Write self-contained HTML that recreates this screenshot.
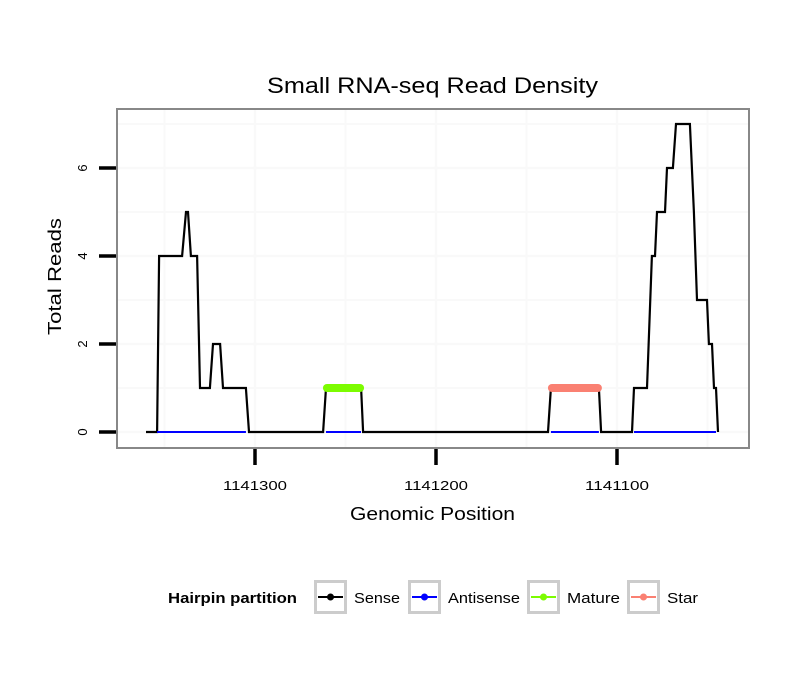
<!DOCTYPE html>
<html><head><meta charset="utf-8"><style>
body{margin:0;background:#fff}
svg text{font-family:"Liberation Sans",sans-serif}
</style></head><body>
<svg id="chart" width="810" height="690" viewBox="0 0 810 690">
<rect width="810" height="690" fill="#fff"/>
<text x="267" y="93" font-size="22" textLength="331" lengthAdjust="spacingAndGlyphs">Small RNA-seq Read Density</text>
<g id="grid"></g>
<g id="series"></g>
<rect x="117" y="109" width="632" height="339" fill="none" stroke="#888" stroke-width="2"/>
<g id="axes"></g>
<text x="350" y="520" font-size="18" textLength="165" lengthAdjust="spacingAndGlyphs">Genomic Position</text>
<text transform="translate(61,335) rotate(-90)" font-size="18" textLength="117" lengthAdjust="spacingAndGlyphs">Total Reads</text>
<g>
<text x="168" y="603" font-size="15" font-weight="bold" textLength="129" lengthAdjust="spacingAndGlyphs">Hairpin partition</text>
<g><rect x="315.5" y="581.5" width="30" height="31" fill="#fff" stroke="#ccc" stroke-width="3"/><line x1="318" y1="597" x2="343" y2="597" stroke="#000" stroke-width="2"/><circle cx="330.5" cy="597" r="3.5" fill="#000"/><text x="354" y="603" font-size="15" textLength="46" lengthAdjust="spacingAndGlyphs">Sense</text></g>
<g><rect x="409.5" y="581.5" width="30" height="31" fill="#fff" stroke="#ccc" stroke-width="3"/><line x1="412" y1="597" x2="437" y2="597" stroke="#00f" stroke-width="2"/><circle cx="424.5" cy="597" r="3.5" fill="#00f"/><text x="448" y="603" font-size="15" textLength="72" lengthAdjust="spacingAndGlyphs">Antisense</text></g>
<g><rect x="528.5" y="581.5" width="30" height="31" fill="#fff" stroke="#ccc" stroke-width="3"/><line x1="531" y1="597" x2="556" y2="597" stroke="#7cfc00" stroke-width="2"/><circle cx="543.5" cy="597" r="3.5" fill="#7cfc00"/><text x="567" y="603" font-size="15" textLength="53" lengthAdjust="spacingAndGlyphs">Mature</text></g>
<g><rect x="628.5" y="581.5" width="30" height="31" fill="#fff" stroke="#ccc" stroke-width="3"/><line x1="631" y1="597" x2="656" y2="597" stroke="#fa8072" stroke-width="2"/><circle cx="643.5" cy="597" r="3.5" fill="#fa8072"/><text x="667" y="603" font-size="15" textLength="31" lengthAdjust="spacingAndGlyphs">Star</text></g>
</g>
</svg>
<script>
const xTicks = [1141300, 1141200, 1141100];
const xTickLabels = ["1141300", "1141200", "1141100"];
const yTicks = [0, 2, 4, 6];
const yTickLabels = ["0", "2", "4", "6"];
const sensePos = [1141360.2,1141354.1,1141353,1141340.3,1141338.1,1141337,1141335.4,1141332,1141330.4,1141324.9,1141323.2,1141319.3,1141317.7,1141305,1141303.3,1141262.4,1141260.8,1141241.4,1141240.3,1141138.1,1141136.5,1141110,1141108.8,1141091.7,1141090.6,1141083.4,1141080.7,1141079,1141077.9,1141073.5,1141072.4,1141069.1,1141067.4,1141059.7,1141057.5,1141055.8,1141050.3,1141049.2,1141047.5,1141046.4,1141045.3,1141044.2];
const senseVal = [0,0,4,4,5,5,4,4,1,1,2,2,1,1,0,0,1,1,0,0,1,1,0,0,1,1,4,4,5,5,6,6,7,7,5,3,3,2,2,1,1,0];
const antisenseRanges = [[1141354.1,1141305],[1141260.8,1141241.4],[1141136.5,1141110],[1141090.6,1141045.3]];
const antisenseVal = [0,0,0,0];
const matureRange = [1141260.8, 1141241.4];
const matureVal = 1;
const starRange = [1141136.5, 1141110];
const starVal = 1;

const X = p => 255 + (1141300 - p) * 1.81;
const Y = v => 432 - v * 44;
const NS = "http://www.w3.org/2000/svg";
function mk(parent, tag, attrs){const e=document.createElementNS(NS,tag);for(const k in attrs)e.setAttribute(k,attrs[k]);document.getElementById(parent).appendChild(e);return e;}

[1141350,1141300,1141250,1141200,1141150,1141100,1141050].forEach(p=>{
  const l=mk('grid','line',{x1:X(p),x2:X(p),y1:110,y2:447,stroke:'#f9f9f9','stroke-width':(p%100===0)?2.5:2});
  
  
});
[0,1,2,3,4,5,6,7].forEach(v=>{
  const l=mk('grid','line',{x1:118,x2:748,y1:Y(v),y2:Y(v),stroke:'#f9f9f9','stroke-width':(v%2===0)?2.5:2});
  
  
});

const sp = sensePos.map((p,i)=>X(p).toFixed(1)+','+Y(senseVal[i]).toFixed(1)).join(' ');
const sl = mk('series','polyline',{points:sp,fill:'none',stroke:'#000','stroke-width':2.2,'stroke-linejoin':'miter'});


antisenseRanges.forEach((r,i)=>{
  const l=mk('series','line',{x1:X(r[0]),x2:X(r[1]),y1:Y(antisenseVal[i]),y2:Y(antisenseVal[i]),stroke:'#00f','stroke-width':2});
  
  
});
const ml=mk('series','line',{x1:X(matureRange[0])+1,x2:X(matureRange[1])-1,y1:Y(matureVal),y2:Y(matureVal),stroke:'#7cfc00','stroke-width':8,'stroke-linecap':'round'});


const stl=mk('series','line',{x1:X(starRange[0])+1,x2:X(starRange[1])-1,y1:Y(starVal),y2:Y(starVal),stroke:'#fa8072','stroke-width':8,'stroke-linecap':'round'});



xTicks.forEach((p,i)=>{
  const t=mk('axes','line',{x1:X(p),x2:X(p),y1:449,y2:465,stroke:'#000','stroke-width':3.5});
  
  
  const tx=mk('axes','text',{x:X(p)-32,y:490,'font-size':13,textLength:64,lengthAdjust:'spacingAndGlyphs'});
  tx.textContent=xTickLabels[i];
  
  
});
yTicks.forEach((v,i)=>{
  const t=mk('axes','line',{x1:99,x2:116,y1:Y(v),y2:Y(v),stroke:'#000','stroke-width':3.5});
  
  
  const tx=mk('axes','text',{transform:'translate(87,'+Y(v)+') rotate(-90)','font-size':13,'text-anchor':'middle'});
  tx.textContent=yTickLabels[i];
  
  
});
</script>
</body></html>
